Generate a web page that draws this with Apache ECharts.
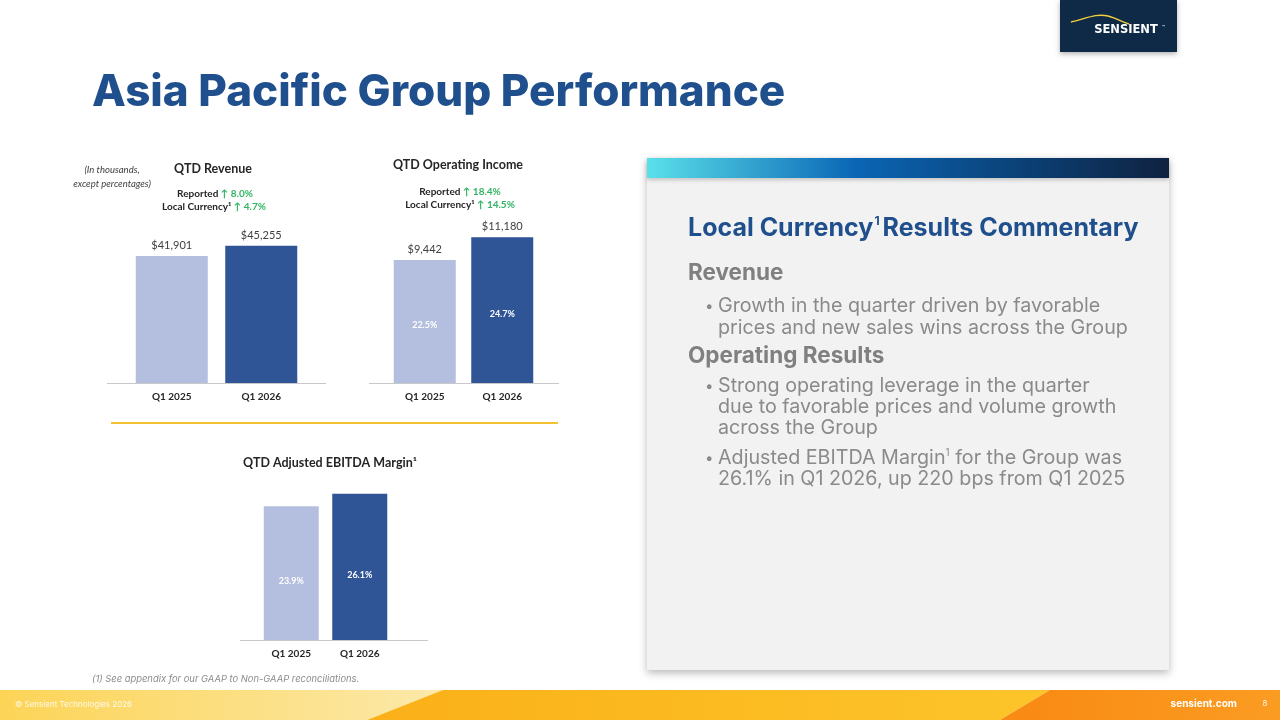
<!DOCTYPE html>
<html>
<head>
<meta charset="utf-8">
<script src="https://cdn.jsdelivr.net/npm/echarts@6/dist/echarts.min.js"></script>
<style>
	html, body {margin: 0; padding: 0; background: #fff;}
	#main {width: 1280px; height: 720px;}
</style>
</head>
<body>
<div id="main"></div>
<script>
// data
let periods = ["Q1 2025", "Q1 2026"]
let revenue = [41901, 45255]
let operatingIncome = [9442, 11180]
let operatingMargin = [22.5, 24.7]
let ebitdaMargin = [23.9, 26.1]
let revenueGrowth = [8.0, 4.7]   // reported, local currency
let incomeGrowth = [18.4, 14.5]  // reported, local currency

let light = "#b4bfdf"
let dark = "#2f5597"
let green = "#2fb464"
let chartFont = "Lato, 'Liberation Sans', sans-serif"
let slideFont = "Inter, 'Open Sans', sans-serif"
let bodySize = "19.7px "
let bodyColor = "#8a8a8a"

function money(v) {
	return "$" + v.toLocaleString("en-US")
}

function barData(values) {
	return values.map(function (v, i) {
		return {value: v, itemStyle: {color: i === 0 ? light : dark}}
	})
}

function txt(x, y, text, font, fill, align, extra) {
	let style = {
		x: x, y: y, text: text, font: font, fill: fill,
		align: align || "left", verticalAlign: "middle"
	}
	if (extra)
		Object.assign(style, extra)
	return {type: "text", z: 10, style: style}
}

function body(x, y, text) {
	return txt(x, y, text, bodySize + slideFont, bodyColor, "left")
}

function line(x1, x2, y, color, width) {
	return {
		type: "line", z: 5,
		shape: {x1: x1, y1: y, x2: x2, y2: y},
		style: {stroke: color, lineWidth: width}
	}
}

function curve(x1, y1, c1x, c1y, c2x, c2y, x2, y2) {
	return {
		type: "bezierCurve", z: 6,
		shape: {x1: x1, y1: y1, cpx1: c1x, cpy1: c1y, cpx2: c2x, cpy2: c2y, x2: x2, y2: y2},
		style: {fill: null, stroke: "#f2d03b", lineWidth: 1.4}
	}
}

function growthText(x, y, label, value) {
	return txt(x, y, "{b|" + label + "} {g|\u2191 " + value.toFixed(1) + "%}", "bold 10px " + chartFont, "#262626", "center", {
		rich: {
			b: {font: "bold 10px " + chartFont, fill: "#262626"},
			g: {font: "bold 10px " + chartFont, fill: green}
		}
	})
}

let xAxisCommon = {
	type: "category",
	data: periods,
	axisLine: {show: false},
	axisTick: {show: false},
	axisLabel: {color: "#262626", fontFamily: chartFont, fontWeight: "bold", fontSize: 10, margin: 9}
}

function yAxis(grid, max) {
	return {type: "value", gridIndex: grid, min: 0, max: max, show: false}
}

let option = {
	animation: false,
	grid: [
		{left: 127, right: 974, top: 201, bottom: 337},
		{left: 386, right: 739, top: 187.5, bottom: 337},
		{left: 257, right: 886, top: 472, bottom: 80}
	],
	xAxis: [
		Object.assign({gridIndex: 0}, xAxisCommon),
		Object.assign({gridIndex: 1}, xAxisCommon),
		Object.assign({gridIndex: 2}, xAxisCommon)
	],
	yAxis: [yAxis(0, 60000), yAxis(1, 15000), yAxis(2, 30)],
	series: [
		{
			name: "QTD Revenue",
			type: "bar",
			xAxisIndex: 0, yAxisIndex: 0,
			barWidth: 72,
			data: barData(revenue),
			label: {
				show: true, position: "top", distance: 5,
				color: "#404040", fontFamily: chartFont, fontSize: 11,
				formatter: p => money(p.value)
			}
		},
		{
			name: "QTD Operating Income",
			type: "bar",
			xAxisIndex: 1, yAxisIndex: 1,
			barWidth: 62,
			data: barData(operatingIncome),
			label: {
				show: true, position: "top", distance: 5,
				color: "#404040", fontFamily: chartFont, fontSize: 11,
				formatter: p => money(p.value)
			}
		},
		{
			// operating margin written inside the income bars
			name: "Operating Margin",
			type: "bar",
			xAxisIndex: 1, yAxisIndex: 1,
			barWidth: 62,
			barGap: "-100%",
			data: operatingIncome.map(v => ({value: v, itemStyle: {color: "rgba(0,0,0,0)"}})),
			label: {
				show: true, position: "inside", offset: [0, 4],
				fontFamily: chartFont, fontSize: 9, fontWeight: "bold",
				color: "#ffffff",
				formatter: p => operatingMargin[p.dataIndex].toFixed(1) + "%"
			}
		},
		{
			name: "QTD Adjusted EBITDA Margin",
			type: "bar",
			xAxisIndex: 2, yAxisIndex: 2,
			barWidth: 55,
			data: barData(ebitdaMargin),
			label: {
				show: true, position: "inside", offset: [0, 8],
				fontFamily: chartFont, fontSize: 9, fontWeight: "bold",
				color: "#ffffff",
				formatter: p => p.value.toFixed(1) + "%"
			}
		}
	],
	graphic: [
		// logo
		{
			type: "rect", z: 4,
			shape: {x: 1060, y: 0, width: 117, height: 52},
			style: {fill: "#0e2a47", shadowBlur: 5, shadowOffsetY: 2, shadowColor: "rgba(0,0,0,0.3)"}
		},
		curve(1071, 22, 1085, 19, 1096, 13, 1108, 16),
		curve(1108, 16, 1116, 18, 1122, 22, 1129, 24),
		txt(1126, 30.5, "SENSIENT", "bold 11.5px 'DejaVu Sans', sans-serif", "#ffffff", "center"),
		txt(1162, 27, "\u2122", "5px " + slideFont, "#ffffff", "left"),

		// title
		txt(92, 93, "Asia Pacific Group Performance", "800 44px " + slideFont, "#1f4f8c", "left"),

		// revenue chart headings
		txt(112, 170, "(In thousands,", "italic 9.5px " + chartFont, "#404040", "center"),
		txt(112, 184, "except percentages)", "italic 9.5px " + chartFont, "#404040", "center"),
		txt(213, 169, "QTD Revenue", "bold 12.5px " + chartFont, "#262626", "center"),
		growthText(215, 194, "Reported", revenueGrowth[0]),
		growthText(214, 207, "Local Currency\u00b9", revenueGrowth[1]),

		// operating income headings
		txt(458, 165, "QTD Operating Income", "bold 12.5px " + chartFont, "#262626", "center"),
		growthText(460, 192, "Reported", incomeGrowth[0]),
		growthText(460, 205, "Local Currency\u00b9", incomeGrowth[1]),

		// ebitda heading
		txt(330, 463, "QTD Adjusted EBITDA Margin\u00b9", "bold 12.5px " + chartFont, "#262626", "center"),

		// baselines and separator
		line(107, 326, 383.5, "#c8c8c8", 1),
		line(369, 559, 383.5, "#c8c8c8", 1),
		line(240, 428, 640.5, "#c8c8c8", 1),
		line(111, 558, 423, "#f3c233", 2),

		// commentary panel
		{
			type: "rect", z: 1,
			shape: {x: 647, y: 158, width: 522, height: 512},
			style: {fill: "#f2f2f2", shadowBlur: 8, shadowOffsetY: 3, shadowColor: "rgba(0,0,0,0.28)"}
		},
		{
			type: "rect", z: 2,
			shape: {x: 647, y: 158, width: 522, height: 20},
			style: {
				fill: new echarts.graphic.LinearGradient(0, 0, 1, 0, [
					{offset: 0, color: "#5ae0ea"},
					{offset: 0.4, color: "#0a66b5"},
					{offset: 0.75, color: "#0b3d70"},
					{offset: 1, color: "#0f2240"}
				]),
				shadowBlur: 4, shadowOffsetY: 2, shadowColor: "rgba(0,0,0,0.2)"
			}
		},
		txt(688, 228, "{h|Local Currency}{s|1}{h|Results Commentary}", "bold 25px " + slideFont, "#1f4f8c", "left", {
			rich: {
				h: {font: "bold 25px " + slideFont, fill: "#1f4f8c"},
				s: {font: "bold 12px " + slideFont, fill: "#1f4f8c", verticalAlign: "top", padding: [0, 3, 12, 1]}
			}
		}),
		txt(688, 273, "Revenue", "bold 22.5px " + slideFont, "#808080", "left"),
		txt(705, 306, "\u2022", "15px " + slideFont, bodyColor, "left"),
		body(718, 306, "Growth in the quarter driven by favorable"),
		body(718, 328, "prices and new sales wins across the Group"),
		txt(688, 356, "Operating Results", "bold 22.5px " + slideFont, "#808080", "left"),
		txt(705, 386, "\u2022", "15px " + slideFont, bodyColor, "left"),
		body(718, 386, "Strong operating leverage in the quarter"),
		body(718, 407, "due to favorable prices and volume growth"),
		body(718, 428, "across the Group"),
		txt(705, 458, "\u2022", "15px " + slideFont, bodyColor, "left"),
		txt(718, 458, "{t|Adjusted EBITDA Margin}{s|1}{t| for the Group was}", bodySize + slideFont, bodyColor, "left", {
			rich: {
				t: {font: bodySize + slideFont, fill: bodyColor},
				s: {font: "10px " + slideFont, fill: bodyColor, verticalAlign: "top", padding: [0, 0, 9, 0]}
			}
		}),
		body(718, 479, "26.1% in Q1 2026, up 220 bps from Q1 2025"),

		// footnote
		txt(92, 679, "(1) See appendix for our GAAP to Non-GAAP reconciliations.", "italic 9.4px " + slideFont, "#8c8c8c", "left"),

		// footer band
		{
			type: "polygon", z: 1,
			shape: {points: [[0, 690], [443, 690], [367, 720], [0, 720]]},
			style: {fill: new echarts.graphic.LinearGradient(0, 0, 1, 0, [
				{offset: 0, color: "#fcd456"},
				{offset: 1, color: "#fce9aa"}
			])}
		},
		{
			type: "polygon", z: 1,
			shape: {points: [[443, 690], [1050, 690], [1000, 720], [367, 720]]},
			style: {fill: new echarts.graphic.LinearGradient(0, 0, 1, 0, [
				{offset: 0, color: "#fbb018"},
				{offset: 1, color: "#fcc52a"}
			])}
		},
		{
			type: "polygon", z: 1,
			shape: {points: [[1050, 690], [1280, 690], [1280, 720], [1000, 720]]},
			style: {fill: new echarts.graphic.LinearGradient(0, 0, 1, 0, [
				{offset: 0, color: "#f98912"},
				{offset: 1, color: "#fb9c22"}
			])}
		},
		txt(15, 705, "\u00a9 Sensient Technologies 2026", "8px " + slideFont, "rgba(255,255,255,0.85)", "left"),
		txt(1237, 704, "sensient.com", "bold 10px " + slideFont, "#ffffff", "right"),
		txt(1265, 704, "8", "8px " + slideFont, "rgba(255,255,255,0.9)", "center")
	]
}

let chart = echarts.init(document.getElementById("main"))
chart.setOption(option)
window.onresize = chart.resize
</script>
</body>
</html>
